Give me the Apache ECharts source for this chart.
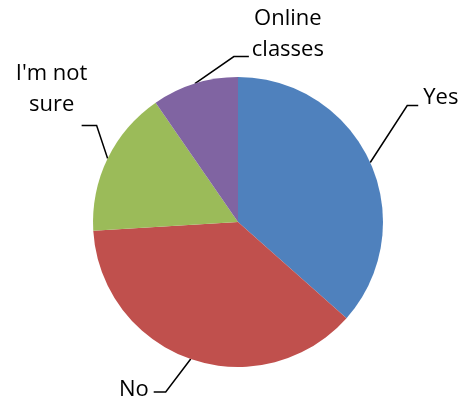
<!DOCTYPE html>
<html>
<head>
<meta charset="utf-8">
<script src="https://cdn.jsdelivr.net/npm/echarts@6/dist/echarts.min.js"></script>
<style>
  html, body { margin: 0; padding: 0; background: #fff; }
  #chart { width: 463px; height: 404px; }
</style>
</head>
<body>
<div id="chart"></div>
<script>
// 数据
const categories = ['Yes', 'No', "I'm not sure", 'Online classes']
const labelLines = [['Yes'], ['No'], ["I'm not", 'sure'], ['Online', 'classes']]
const values = [38, 39, 17, 10]
const colors = ['#4F81BD', '#C0504D', '#9BBB59', '#8064A2']

// 标签引导线偏移（相对扇区边缘中点）：拐点、末端、文字位置、对齐
const labelOffsets = [
  { elbow: [37, -57], end: [48, -57], text: [53, -65], align: 'left' },
  { elbow: [-25, 33], end: [-37, 33], text: [-42, 31], align: 'right' },
  { elbow: [-11, -33], end: [-26, -33], text: [-56, -69], align: 'center' },
  { elbow: [39, -27], end: [54, -27], text: [93, -49], align: 'center' }
]

const chart = echarts.init(document.getElementById('chart'))

const seriesData = categories.map((name, i) => ({
  name,
  value: values[i],
  itemStyle: { color: colors[i] }
}))

chart.setOption({
  backgroundColor: '#fff',
  animation: false,
  series: [
    {
      type: 'pie',
      center: [238, 222],
      radius: 145,
      startAngle: 90,
      clockwise: true,
      avoidLabelOverlap: false,
      data: seriesData,
      label: {
        show: true,
        color: '#000',
        fontFamily: 'Open Sans',
        fontSize: 22,
        lineHeight: 31,
        formatter: (p) => labelLines[p.dataIndex].map(t => '{a|' + t + '}').join('\n'),
        rich: {
          a: { fontFamily: 'Open Sans', fontSize: 22, lineHeight: 31, color: '#000', align: 'center' }
        }
      },
      labelLine: {
        show: true,
        length: 30,
        length2: 12,
        lineStyle: { color: '#000', width: 1.5 }
      },
      labelLayout: (params) => {
        const p0 = params.labelLinePoints[0]
        const o = labelOffsets[params.dataIndex]
        const at = (d) => [p0[0] + d[0], p0[1] + d[1]]
        const t = at(o.text)
        return {
          x: t[0],
          y: t[1],
          align: o.align,
          verticalAlign: 'middle',
          labelLinePoints: [p0, at(o.elbow), at(o.end)]
        }
      },
      emphasis: { disabled: true }
    }
  ]
})
</script>
</body>
</html>
